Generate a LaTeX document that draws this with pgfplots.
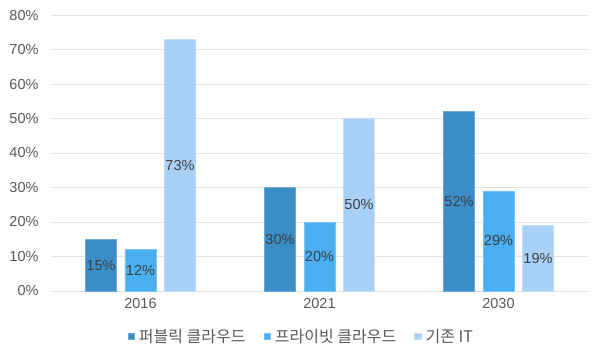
\documentclass[border=0pt]{standalone}
\usepackage{fontspec}
\setmainfont{Liberation Sans}
\newfontfamily\kr{Noto Sans CJK KR}
\usepackage{pgfplots}
\pgfplotsset{compat=1.18}
\definecolor{c1}{HTML}{3B8DC8}
\definecolor{c2}{HTML}{4BAEF0}
\definecolor{c3}{HTML}{A9D1F7}
\definecolor{tk}{HTML}{595959}
\definecolor{lb}{HTML}{404040}
\definecolor{gr}{HTML}{E3E3E3}
\begin{document}
\begin{tikzpicture}
\begin{axis}[
  scale only axis, width=537pt, height=276pt, at={(0,0)}, anchor=south west,
  xmin=-0.5, xmax=2.5, ymin=0, ymax=80,
  xtick={0,1,2}, xticklabels={2016,2021,2030},
  ytick={0,10,...,80},
  yticklabel={\pgfmathprintnumber{\tick}\%},
  /pgf/number format/assume math mode=true,
  axis line style={draw=none},
  major tick length=0pt,
  tick label style={font=\fontsize{14.5}{17}\selectfont, text=tk},
  yticklabel style={xshift=-9pt},
  xticklabel style={yshift=-4pt},
  ymajorgrids, grid style={gr, line width=0.8pt},
  ybar=8.5pt, bar width=31pt,
  visualization depends on={y \as \rawy},
  nodes near coords={\pgfmathprintnumber{\pgfplotspointmeta}\%},
  point meta=y,
  every node near coord/.append style={anchor=center, font=\fontsize{14.5}{17}\selectfont, text=lb,
     shift={(axis direction cs:0,-\rawy/2)}},
  legend style={at={(0.466,-0.165)}, anchor=center, draw=none, fill=none,
     legend columns=-1, font=\kr\fontsize{16}{19}\selectfont, text=tk,
     /tikz/every even column/.append style={column sep=16pt},
     /tikz/every odd column/.append style={column sep=2.5pt}},
  legend image code/.code={\fill[#1] (0pt,-3pt) rectangle (6.5pt,3.5pt);},
]
\addplot[fill=c1, draw=c1!75!white] coordinates {(0,15) (1,30) (2,52)};
\addplot[fill=c2, draw=c2!75!white] coordinates {(0,12) (1,20) (2,29)};
\addplot[fill=c3, draw=c3!75!white] coordinates {(0,73) (1,50) (2,19)};
\legend{퍼블릭 클라우드, 프라이빗 클라우드, 기존 IT}
\end{axis}
\pgfresetboundingbox
\path (-51pt,-66pt) rectangle (549pt,291pt);
\end{tikzpicture}
\end{document}
